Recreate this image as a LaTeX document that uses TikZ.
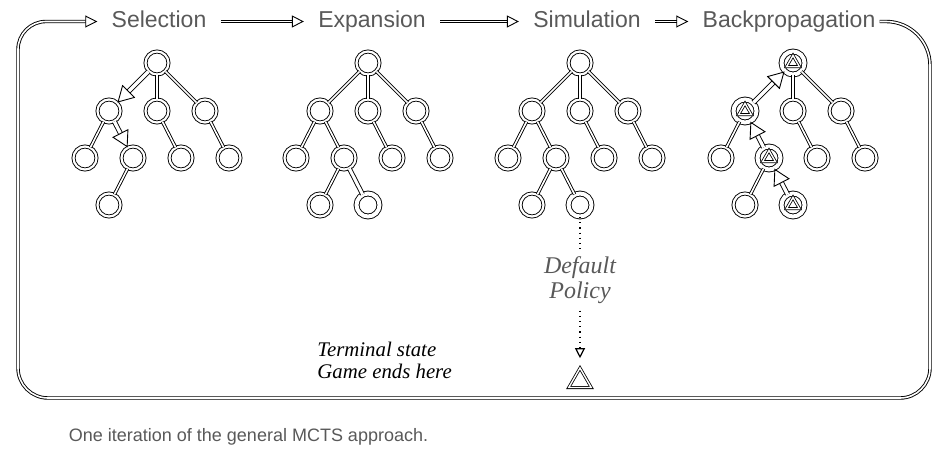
\documentclass[tikz,border=0pt]{standalone}
\usepackage{fontspec}
\setmainfont{Liberation Serif}
\setsansfont{Liberation Sans}
\usetikzlibrary{arrows.meta,shapes.geometric}

\tikzset{
  state/.style={circle,draw,double,line width=0.45pt,double distance=1.1pt,minimum size=11.5pt,inner sep=0pt},
  hotstate/.style={state,double distance=2pt},
  link/.style={double,line width=0.45pt,double distance=0.8pt},
  hotlink/.style={link,double distance=1.5pt},
  walk/.style={double,line width=0.45pt,double distance=1.6pt,-{Triangle[open,length=8pt,width=9pt]}},
  tri/.style={regular polygon,regular polygon sides=3,draw,double,line width=0.4pt,double distance=0.7pt,minimum size=7.5pt,inner sep=0pt},
  phase/.style={font=\sffamily\fontsize{11.5}{12}\selectfont,text=black!65,inner sep=0pt,text height=8.5pt,text depth=2.5pt},
  flow/.style={link,-{Triangle[open,length=6pt,width=6pt]},shorten <=7pt,shorten >=7pt},
}

\begin{document}
\begin{tikzpicture}[x=0.5pt,y=-0.5pt]
  \useasboundingbox (0,0) rectangle (952,454);
  % the four phases
  \node[phase] (sel) at (159,21.5) {Selection};
  \node[phase] (exp) at (372,21.5) {Expansion};
  \node[phase] (sim) at (587,21.5) {Simulation};
  \node[phase] (bp) at (789,21.5) {Backpropagation};
  \draw[flow] (sel) -- (exp);
  \draw[flow] (exp) -- (sim);
  \draw[flow] (sim) -- (bp);
  \draw[link,-{Triangle[open,length=6pt,width=6pt]},shorten <=2pt,shorten >=7pt]
     (bp.east) [rounded corners=22pt] -- (930,21.5) [rounded corners=15pt] -- (930,398) -- (18,398)
     [rounded corners=14pt] -- (18,21.5) -- (sel.west);
  % trees
  \foreach \t/\cx in {1/157,2/368,3/580,4/793}{
     \node[state] (b\t) at (\cx,111) {};
     \node[state] (c\t) at (\cx+48,111) {};
     \node[state] (aa\t) at (\cx-72,158) {};
     \node[state] (bb\t) at (\cx+24,158) {};
     \node[state] (cc\t) at (\cx+72,158) {};
     \node[state] (aba\t) at (\cx-48,205) {};
  }
  \foreach \t/\cx in {1/157,2/368,3/580}{
     \node[state] (r\t) at (\cx,63) {};
     \node[state] (a\t) at (\cx-48,111) {};
     \node[state] (ab\t) at (\cx-24,158) {};
  }
  \node[hotstate] (r4) at (793,63) {};
  \node[hotstate] (a4) at (745,111) {};
  \node[hotstate] (ab4) at (769,158) {};
  \foreach \t/\cx in {2/368,3/580,4/793}
     \node[hotstate] (abb\t) at (\cx,205) {};
  \foreach \n in {r4,a4,ab4,abb4}
     \node[tri] (tri-\n) at (\n) {};
  \foreach \t in {1,2,3,4}{
     \draw[link] (r\t) -- (b\t);
     \draw[link] (r\t) -- (c\t);
     \draw[link] (a\t) -- (aa\t);
     \draw[link] (b\t) -- (bb\t);
     \draw[link] (c\t) -- (cc\t);
     \draw[link] (ab\t) -- (aba\t);
  }
  \foreach \t in {2,3}{
     \draw[link] (r\t) -- (a\t);
     \draw[link] (a\t) -- (ab\t);
  }
  \draw[hotlink] (ab2) -- (abb2);
  \draw[link] (ab3) -- (abb3);
  % selection walk and backup
  \draw[walk] (r1) -- (a1);
  \draw[walk] (a1) -- (ab1);
  \draw[walk] (abb4) -- (ab4);
  \draw[walk] (ab4) -- (a4);
  \draw[walk] (a4) -- (r4);
  % default policy down to the end of the game
  \node[tri,minimum size=13pt] (term) at (580,381) {};
  \draw[dotted,line width=0.6pt,-{Triangle[open,length=5pt,width=5pt]},shorten >=4.5pt] (abb3) --
     node[pos=0.42,fill=white,align=center,text=black!65,font=\itshape\fontsize{12}{12.5}\selectfont] (policy) {Default\\Policy} (term);
  \node[anchor=west,align=left,inner sep=0pt,font=\itshape\fontsize{10.4}{11}\selectfont] (endtxt) at (317,360)
     {Terminal state\\Game ends here};
  \node[text=black!65,font=\sffamily\fontsize{9}{10}\selectfont] (caption) at (248.5,437)
     {One iteration of the general MCTS approach.};
\end{tikzpicture}
\end{document}
